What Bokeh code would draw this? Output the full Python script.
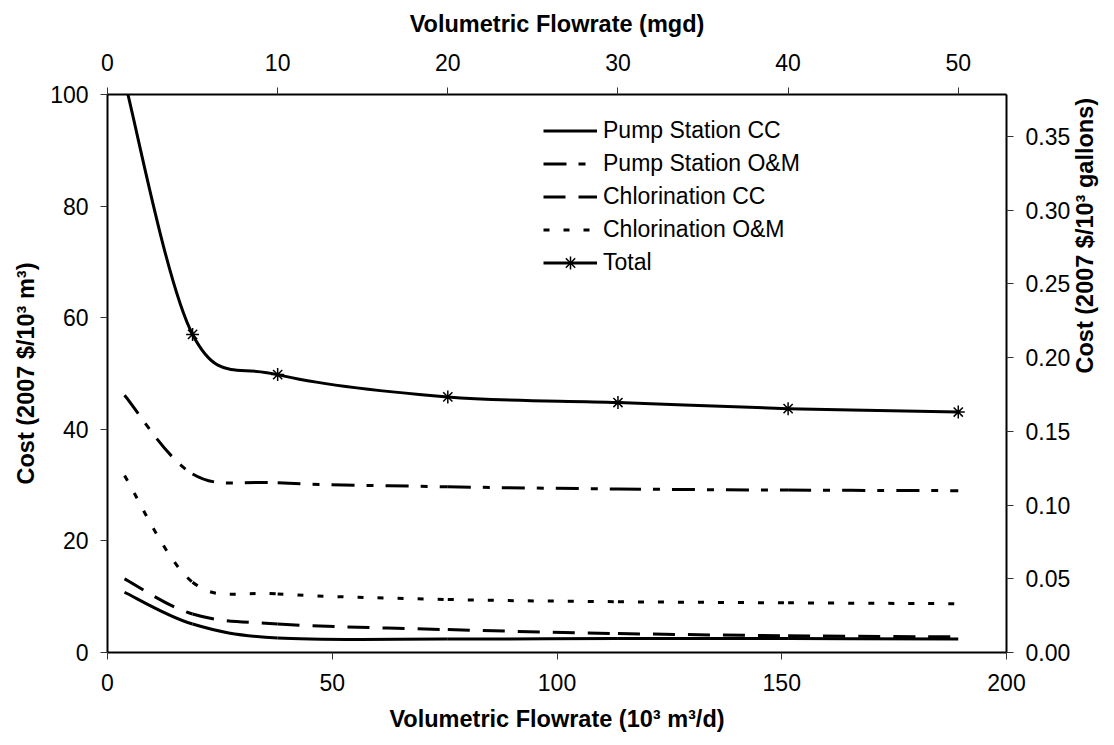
import math
import numpy as np
from bokeh.plotting import figure
from bokeh.models import (Range1d, LinearAxis, FixedTicker, NumeralTickFormatter,
                          Legend, LegendItem, ColumnDataSource)
from bokeh.embed import file_html
from bokeh.resources import INLINE

# ---------------- data ----------------
flow_mgd = [1, 5, 10, 20, 30, 40, 50]                 # mgd
M3_PER_MGD = 3.7854                                   # 10^3 m3/d per mgd
flow_m3 = [f * M3_PER_MGD for f in flow_mgd]          # 10^3 m3/d

pump_cc = [10.8, 5.1, 2.6, 2.4, 2.5, 2.5, 2.4]
pump_om = [46.1, 32.0, 30.4, 29.7, 29.3, 29.1, 29.0]
chlor_cc = [13.2, 6.9, 5.1, 4.1, 3.4, 3.0, 2.8]
chlor_om = [31.7, 12.6, 10.5, 9.5, 9.1, 8.9, 8.75]
total = [102.5, 57.0, 49.8, 45.8, 44.8, 43.7, 43.1]

names = ["Pump Station CC", "Pump Station O&M", "Chlorination CC",
         "Chlorination O&M", "Total"]

left_ticks = [0, 20, 40, 60, 80, 100]
bottom_ticks = [0, 50, 100, 150, 200]
top_ticks = [0, 10, 20, 30, 40, 50]
right_ticks = [0.0, 0.05, 0.10, 0.15, 0.20, 0.25, 0.30, 0.35]

GAL_PER_M3 = 264.172
FONT = "Liberation Sans"


def smooth_segments(xs, ys):
    """Cubic Bezier control points (Excel-like smoothed line) through the data."""
    P = np.column_stack([xs, ys]).astype(float)
    n = len(P)
    out = {k: [] for k in ("x0", "y0", "x1", "y1", "cx0", "cy0", "cx1", "cy1")}
    for i in range(n - 1):
        p0 = P[max(i - 1, 0)]
        p1 = P[i]
        p2 = P[i + 1]
        p3 = P[min(i + 2, n - 1)]
        c1 = p1 + (p2 - p0) / 6.0
        c2 = p2 - (p3 - p1) / 6.0
        out["x0"].append(p1[0]); out["y0"].append(p1[1])
        out["x1"].append(p2[0]); out["y1"].append(p2[1])
        out["cx0"].append(c1[0]); out["cy0"].append(c1[1])
        out["cx1"].append(c2[0]); out["cy1"].append(c2[1])
    return ColumnDataSource(out)


p = figure(width=1114, height=745,
           x_range=Range1d(0, 200), y_range=Range1d(0, 100),
           output_backend="svg", toolbar_location=None,
           min_border_left=107, min_border_right=106,
           min_border_top=94, min_border_bottom=93)
p.extra_x_ranges = {"mgd": Range1d(0, 200 / M3_PER_MGD)}
p.extra_y_ranges = {"gal": Range1d(0, 100 / GAL_PER_M3)}
p.xgrid.visible = False
p.ygrid.visible = False
p.outline_line_color = None
p.background_fill_color = "white"
p.border_fill_color = "white"

bottom_axis = p.below[0]
left_axis = p.left[0]
bottom_axis.ticker = FixedTicker(ticks=bottom_ticks)
bottom_axis.axis_label = "Volumetric Flowrate (10³ m³/d)"
left_axis.ticker = FixedTicker(ticks=left_ticks)
left_axis.axis_label = "Cost (2007 $/10³ m³)"

top_axis = LinearAxis(x_range_name="mgd", ticker=FixedTicker(ticks=top_ticks),
                      axis_label="Volumetric Flowrate (mgd)")
right_axis = LinearAxis(y_range_name="gal", ticker=FixedTicker(ticks=right_ticks),
                        formatter=NumeralTickFormatter(format="0.00"),
                        axis_label="Cost (2007 $/10³ gallons)")
p.add_layout(top_axis, "above")
p.add_layout(right_axis, "right")

for ax in [bottom_axis, left_axis, top_axis, right_axis]:
    ax.axis_line_color = "black"
    ax.axis_line_width = 2
    ax.major_tick_out = 7
    ax.major_tick_in = 0
    ax.major_tick_line_color = "#333333"
    ax.major_tick_line_width = 1
    ax.minor_tick_line_color = None
    ax.major_label_text_font = FONT
    ax.major_label_text_font_size = "23px"
    ax.major_label_text_color = "black"
    ax.major_label_standoff = 12
    ax.axis_label_text_font = FONT
    ax.axis_label_text_font_size = "23.5px"
    ax.axis_label_text_font_style = "bold"
    ax.axis_label_text_color = "black"
    ax.axis_label_standoff = 12

top_axis.major_label_standoff = 17
top_axis.axis_label_standoff = 14
bottom_axis.major_label_standoff = 14
left_axis.axis_label_standoff = 8
right_axis.axis_label_orientation = math.pi / 2

styles = [
    dict(line_dash="solid"),
    dict(line_dash="23 12 7 12"),
    dict(line_dash="22 13"),
    dict(line_dash="6 14"),
    dict(line_dash="solid"),
]
series = [pump_cc, pump_om, chlor_cc, chlor_om, total]

items = []
for name, ys, st in zip(names, series, styles):
    src = smooth_segments(flow_m3, ys)
    p.bezier(x0="x0", y0="y0", x1="x1", y1="y1", cx0="cx0", cy0="cy0",
             cx1="cx1", cy1="cy1", source=src, line_color="black",
             line_width=3, **st)
    # legend swatch renderer (hidden; the visible curve is the smoothed bezier)
    proxy = p.line(x=flow_m3, y=ys, line_color="black", line_width=3,
                   visible=False, **st)
    rends = [proxy]
    if name == "Total":
        sc = p.scatter(x=flow_m3, y=ys, marker="asterisk", size=13,
                       line_color="black", line_width=1.5)
        rends.append(sc)
    items.append(LegendItem(label=name, renderers=rends))

legend = Legend(items=items, location=(436, 373),
                glyph_width=54, glyph_height=33, label_height=33,
                spacing=0, padding=0, margin=0, label_standoff=6,
                border_line_color=None, background_fill_alpha=0,
                label_text_font=FONT, label_text_font_size="23px",
                label_text_color="black")
p.add_layout(legend)

open("out.html", "w").write(file_html(p, INLINE))
